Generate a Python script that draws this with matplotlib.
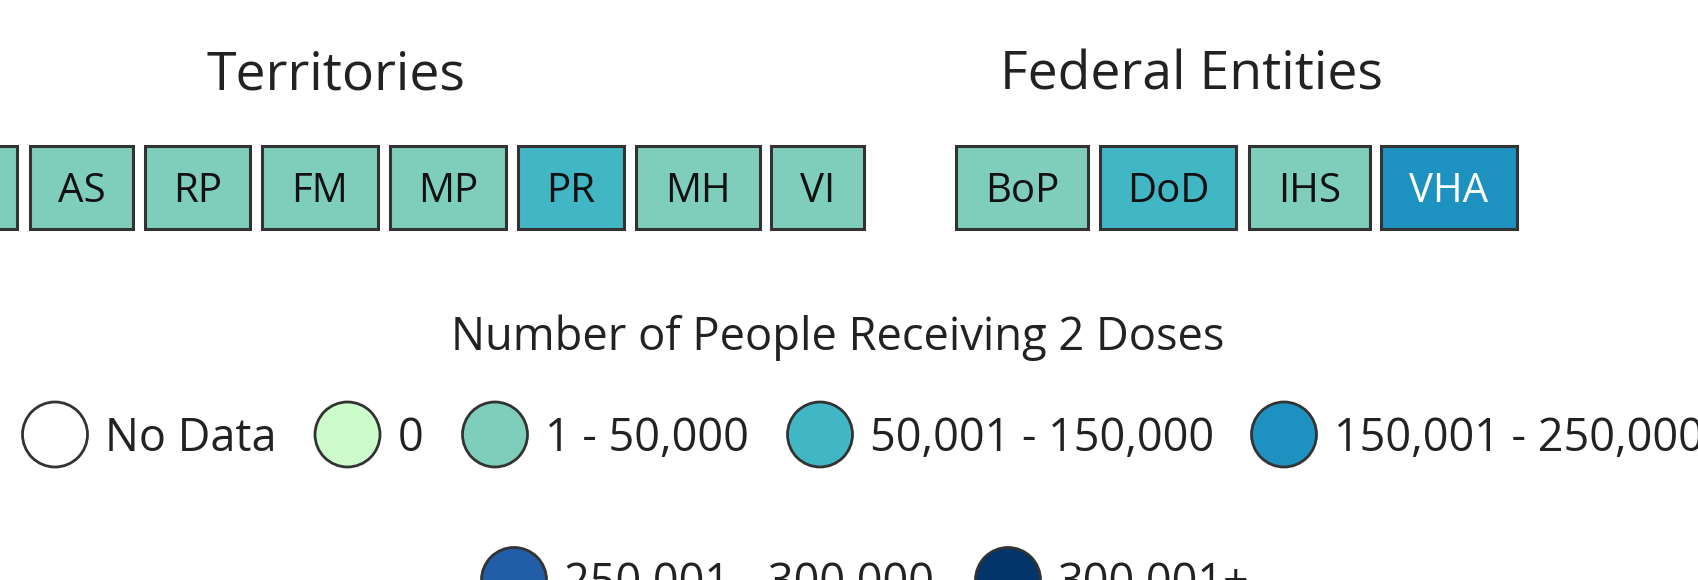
import matplotlib.pyplot as plt
from matplotlib.patches import Rectangle, Circle

plt.rcParams['font.family'] = ['Open Sans', 'DejaVu Sans']

# data
territories = ["GU", "AS", "RP", "FM", "MP", "PR", "MH", "VI"]
territory_bins = [2, 2, 2, 2, 2, 3, 2, 2]
federal = ["BoP", "DoD", "IHS", "VHA"]
federal_bins = [2, 3, 2, 4]
bin_labels = ["No Data", "0", "1 - 50,000", "50,001 - 150,000",
              "150,001 - 250,000", "250,001 - 300,000", "300,001+"]
bin_colors = ["#ffffff", "#ccfccb", "#7fcdbb", "#41b6c4",
              "#1d91c0", "#225ea8", "#03356a"]
light_text_bins = [4, 5, 6]

# layout (pixels)
territory_edges = [(-88, 17), (30, 133), (145, 250), (262, 378), (390, 506),
                   (518, 624), (636, 760), (771, 864)]
federal_edges = [(956, 1088), (1100, 1236), (1249, 1370), (1381, 1517)]
box_top, box_bottom = 146, 229
legend_rows = [[0, 1, 2, 3, 4], [5, 6]]
legend_x = [[55, 347.5, 495, 820, 1284], [514, 1008]]
legend_y = [434.5, 580]
edge = "#333333"
txt = "#222222"

fig = plt.figure(figsize=(16.99, 5.8), dpi=100)
ax = fig.add_axes([0, 0, 1, 1])
ax.set_xlim(0, 1699)
ax.set_ylim(580, 0)
ax.axis('off')


def draw_boxes(names, bins, edges):
    for name, b, (l, r) in zip(names, bins, edges):
        ax.add_patch(Rectangle((l, box_top), r - l, box_bottom - box_top,
                               facecolor=bin_colors[b], edgecolor=edge, lw=2.2))
        color = "white" if b in light_text_bins else "#111111"
        ax.text((l + r) / 2, (box_top + box_bottom) / 2 + 15, name, fontsize=29,
                ha='center', va='baseline', color=color)


draw_boxes(territories, territory_bins, territory_edges)
draw_boxes(federal, federal_bins, federal_edges)

ax.text(336, 90, "Territories", fontsize=38.5, ha='center', va='baseline', color=txt)
ax.text(1191, 90, "Federal Entities", fontsize=38.5, ha='center', va='baseline', color=txt)

ax.text(838, 350, "Number of People Receiving 2 Doses", fontsize=32.6,
        ha='center', va='baseline', color=txt)

for row, xs, cy in zip(legend_rows, legend_x, legend_y):
    for i, cx in zip(row, xs):
        ax.add_patch(Circle((cx, cy), 32.5, facecolor=bin_colors[i],
                            edgecolor=edge, lw=2.0))
        ax.text(cx + 50, cy + 16.5, bin_labels[i], fontsize=32.4,
                ha='left', va='baseline', color=txt)

plt.savefig("out.png", dpi=100)
